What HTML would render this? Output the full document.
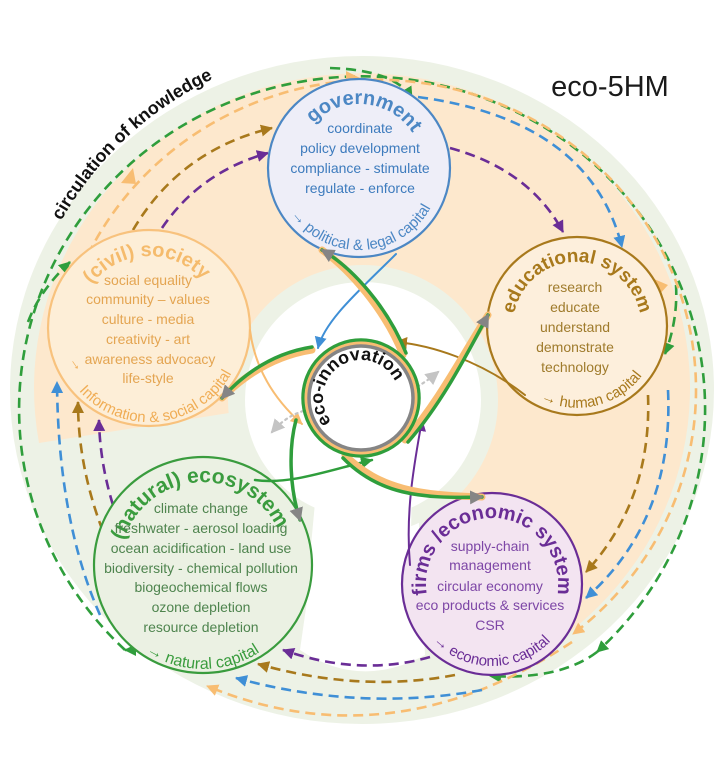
<!DOCTYPE html>
<html><head><meta charset="utf-8"><style>
html,body{margin:0;padding:0;background:#fff;}
svg{display:block;font-family:"Liberation Sans",sans-serif;}
</style></head><body>
<svg width="720" height="759" viewBox="0 0 720 759" xmlns="http://www.w3.org/2000/svg">
<defs>
<marker id="mG" markerUnits="userSpaceOnUse" markerWidth="14" markerHeight="14" refX="11" refY="6" orient="auto"><path d="M0,0 L12,6 L0,12 z" fill="#2f9e3c"/></marker>
<marker id="mO" markerUnits="userSpaceOnUse" markerWidth="14" markerHeight="14" refX="11" refY="6" orient="auto"><path d="M0,0 L12,6 L0,12 z" fill="#f8bd72"/></marker>
<marker id="mB" markerUnits="userSpaceOnUse" markerWidth="14" markerHeight="14" refX="11" refY="6" orient="auto"><path d="M0,0 L12,6 L0,12 z" fill="#3f8fd6"/></marker>
<marker id="mBr" markerUnits="userSpaceOnUse" markerWidth="14" markerHeight="14" refX="11" refY="6" orient="auto"><path d="M0,0 L12,6 L0,12 z" fill="#a8791c"/></marker>
<marker id="mP" markerUnits="userSpaceOnUse" markerWidth="14" markerHeight="14" refX="11" refY="6" orient="auto"><path d="M0,0 L12,6 L0,12 z" fill="#6a2d96"/></marker>
<marker id="mGr" markerUnits="userSpaceOnUse" markerWidth="16" markerHeight="16" refX="12" refY="7" orient="auto"><path d="M0,0 L14,7 L0,14 z" fill="#858585"/></marker>
<marker id="mLg" markerUnits="userSpaceOnUse" markerWidth="16" markerHeight="16" refX="12" refY="7" orient="auto-start-reverse"><path d="M0,0 L14,7 L0,14 z" fill="#c4c4c4"/></marker>

<path id="tCirc" d="M 22.2 330.1 A 345 345 0 0 1 421.9 50.2"/>
<path id="tGov" d="M 295 168 A 64 64 0 0 1 423 168"/>
<path id="tGovC" d="M 278.2 182.2 A 82 82 0 0 0 439.8 153.8"/>
<path id="tEdu" d="M 516.9 347.9 A 64 64 0 1 1 637.1 347.9"/>
<path id="tEduC" d="M 500 354 A 82 82 0 0 0 659 326"/>
<path id="tCiv" d="M 81.3 352.6 A 72 72 0 1 1 216.7 352.6"/>
<path id="tCivC" d="M 56.4 344.6 A 94 94 0 0 0 241.6 311.4"/>
<path id="tEco" d="M 122.8 586.5 A 83 83 0 1 1 283.2 586.5"/>
<path id="tEcoC" d="M 113 617 A 104 104 0 0 0 293 617"/>
<path id="tFir" d="M 434.8 617 A 66 66 0 1 1 549.2 617"/>
<path id="tFirC" d="M 412.8 605.2 A 82 82 0 0 0 571.2 605.2"/>
<path id="tInn" d="M 336.6 427.1 A 38 38 0 1 1 398.4 391.4"/>
</defs>

<ellipse cx="362" cy="390" rx="352" ry="334" fill="#edf2e6"/>
<path d="M 362 392 L 39 443 A 328 315 0 1 1 500 674 Z" fill="#fde8cd"/>
<path d="M 330 440 L 300 650 Q 360 690 425 655 L 415 440 Z" fill="#ffffff"/>
<circle cx="363" cy="400" r="135" fill="#edf2e6"/>
<circle cx="363" cy="400" r="118" fill="#ffffff"/>
<path d="M 318 470 L 306 600 Q 360 640 410 600 L 412 470 Z" fill="#ffffff"/>

<g fill="none" stroke-width="2.6" stroke-dasharray="10 6">
<path d="M 125 650 A 343 333 0 1 1 597 652" stroke="#2f9e3c" marker-end="url(#mG)"/>
<path d="M 28 322 Q 40 290 70 262" stroke="#2f9e3c" marker-end="url(#mG)"/>
<path d="M 330 68 Q 395 70 412 98" stroke="#2f9e3c" marker-end="url(#mG)"/>
<path d="M 676 285 Q 678 320 665 354" stroke="#2f9e3c" marker-end="url(#mG)"/>
<path d="M 597 652 Q 560 680 490 676" stroke="#2f9e3c" marker-end="url(#mG)"/>
<path d="M 142 645 Q 130 650 125 650" stroke="#2f9e3c" marker-end="url(#mG)"/>

<path d="M 62 330 A 320 310 0 1 1 573 634" stroke="#f8bd72" marker-end="url(#mO)"/>
<path d="M 572 642 Q 390 762 207 686" stroke="#f8bd72" marker-end="url(#mO)"/>

<path d="M 482 690 Q 360 712 236 678" stroke="#3f8fd6" marker-end="url(#mB)"/>
<path d="M 455 675 Q 360 693 258 664" stroke="#a8791c" marker-end="url(#mBr)"/>
<path d="M 430 657 Q 360 677 283 650" stroke="#6a2d96" marker-end="url(#mP)"/>

<path d="M 100 615 Q 58 520 57 382" stroke="#3f8fd6" marker-end="url(#mB)"/>
<path d="M 115 560 Q 78 480 78 402" stroke="#a8791c" marker-end="url(#mBr)"/>
<path d="M 118 520 Q 100 470 99 420" stroke="#6a2d96" marker-end="url(#mP)"/>

<path d="M 648 395 Q 652 500 586 572" stroke="#a8791c" marker-end="url(#mBr)"/>
<path d="M 668 390 Q 674 520 586 598" stroke="#3f8fd6" marker-end="url(#mB)"/>

<path d="M 133 230 Q 180 150 272 128" stroke="#a8791c" marker-end="url(#mBr)"/>
<path d="M 162 228 Q 200 172 268 153" stroke="#6a2d96" marker-end="url(#mP)"/>
<path d="M 450 148 Q 530 170 563 232" stroke="#6a2d96" marker-end="url(#mP)"/>
<path d="M 418 97 Q 590 120 622 247" stroke="#3f8fd6" marker-end="url(#mB)"/>
</g>
<path d="M 121 183 L 133 168 L 136 184 z" fill="#f8bd72"/>
<path d="M 346 71 L 360 78 L 346 85 z" fill="#f8bd72"/>
<path d="M 654 279 L 668 285 L 658 296 z" fill="#f8bd72"/>

<ellipse cx="359" cy="168" rx="91" ry="89" fill="#eeeef8" stroke="#4c87c4" stroke-width="2.2"/>
<ellipse cx="577" cy="326" rx="90" ry="89" fill="#fdefdc" stroke="#a8791c" stroke-width="2.2"/>
<ellipse cx="149" cy="328" rx="101" ry="98" fill="#fdeed7" stroke="#f8c27d" stroke-width="2.2"/>
<ellipse cx="203" cy="565" rx="109" ry="108" fill="#ebf1e3" stroke="#3a9c3e" stroke-width="2.2"/>
<ellipse cx="492" cy="584" rx="90" ry="91" fill="#f3e4f1" stroke="#6a2d96" stroke-width="2.2"/>

<g fill="none" stroke-linecap="round">
<path d="M 396 254 C 360 290 325 320 318 348" stroke="#3f8fd6" stroke-width="2" marker-end="url(#mB)"/>
<path d="M 525 395 C 480 360 430 345 396 342" stroke="#a8791c" stroke-width="2" marker-end="url(#mBr)"/>
<path d="M 250 330 C 255 370 275 400 302 424" stroke="#f8bd72" stroke-width="2" marker-end="url(#mO)"/>
<path d="M 410 565 C 405 510 415 460 422 420" stroke="#6a2d96" stroke-width="2" marker-end="url(#mP)"/>
<path d="M 255 480 C 290 485 330 470 372 460" stroke="#2f9e3c" stroke-width="2.5" marker-end="url(#mG)"/>

<path d="M 403 355 C 385 310 350 270 322 250" stroke="#f8bd72" stroke-width="7"/>
<path d="M 406 353 C 388 308 353 268 322 250" stroke="#2f9e3c" stroke-width="3.5" marker-end="url(#mGr)"/>
<path d="M 312 350 C 280 355 250 370 222 398" stroke="#f8bd72" stroke-width="7"/>
<path d="M 312 347 C 280 352 250 367 222 398" stroke="#2f9e3c" stroke-width="3.5" marker-end="url(#mGr)"/>
<path d="M 405 440 C 440 400 465 350 488 315" stroke="#f8bd72" stroke-width="7"/>
<path d="M 408 442 C 443 402 468 352 488 315" stroke="#2f9e3c" stroke-width="3.5" marker-end="url(#mGr)"/>
<path d="M 345 455 C 380 490 420 495 482 497" stroke="#f8bd72" stroke-width="7"/>
<path d="M 343 458 C 378 494 420 499 482 497" stroke="#2f9e3c" stroke-width="3.5" marker-end="url(#mGr)"/>
<path d="M 296 420 C 288 450 290 490 300 520" stroke="#2f9e3c" stroke-width="3.5" marker-end="url(#mGr)"/>

<path d="M 272 432 C 300 400 330 410 360 405 C 390 400 410 395 438 372" stroke="#c4c4c4" stroke-width="2.2" stroke-dasharray="2 4" marker-start="url(#mLg)" marker-end="url(#mLg)"/>
</g>

<circle cx="361" cy="398" r="58" fill="none" stroke="#2f9e3c" stroke-width="3.5"/>
<circle cx="361" cy="398" r="55" fill="none" stroke="#f8bd72" stroke-width="3"/>
<circle cx="361" cy="398" r="52" fill="#ffffff" stroke="#858585" stroke-width="3.5"/>
<text font-size="18" font-weight="bold" fill="#111"><textPath href="#tInn" startOffset="49%" text-anchor="middle">eco-innovation</textPath></text>

<text x="610" y="96" font-size="29" fill="#1a1a1a" text-anchor="middle">eco-5HM</text>
<text font-size="18" font-weight="bold" fill="#111"><textPath href="#tCirc" startOffset="41%" text-anchor="middle">circulation of knowledge</textPath></text>

<text font-size="20" font-weight="bold" fill="#4c87c4"><textPath href="#tGov" startOffset="53%" text-anchor="middle">government</textPath></text>
<text font-size="15" fill="#4c87c4"><textPath href="#tGovC" startOffset="46%" text-anchor="middle">→ political &amp; legal capital</textPath></text>
<g font-size="14" fill="#3d7bbd" text-anchor="middle">
<text x="360" y="133">coordinate</text>
<text x="360" y="153">policy development</text>
<text x="360" y="173">compliance  -  stimulate</text>
<text x="360" y="193">regulate  -  enforce</text>
</g>

<text font-size="19" font-weight="bold" fill="#a8791c"><textPath href="#tEdu" startOffset="50%" text-anchor="middle">educational system</textPath></text>
<text font-size="15" fill="#a8791c"><textPath href="#tEduC" startOffset="52%" text-anchor="middle">→ human capital</textPath></text>
<g font-size="14" fill="#9f7b2c" text-anchor="middle">
<text x="575" y="292">research</text>
<text x="575" y="312">educate</text>
<text x="575" y="332">understand</text>
<text x="575" y="352">demonstrate</text>
<text x="575" y="372">technology</text>
</g>

<text font-size="20" font-weight="bold" fill="#f5bb6c"><textPath href="#tCiv" startOffset="49%" text-anchor="middle">(civil) society</textPath></text>
<text font-size="15" fill="#f0ad55"><textPath href="#tCivC" startOffset="48%" text-anchor="middle">Information &amp; social capital</textPath></text>
<text x="72" y="362" font-size="15" fill="#f0ad55" transform="rotate(55 72 358)">→</text>
<g font-size="14" fill="#e4a552" text-anchor="middle">
<text x="148" y="285">social equality</text>
<text x="148" y="304">community – values</text>
<text x="148" y="324">culture  -  media</text>
<text x="148" y="344">creativity  -  art</text>
<text x="150" y="364">awareness  advocacy</text>
<text x="148" y="383">life-style</text>
</g>

<text font-size="21" font-weight="bold" fill="#3a9c3e"><textPath href="#tEco" startOffset="48%" text-anchor="middle">(natural) ecosystem</textPath></text>
<text font-size="16" fill="#3a9c3e"><textPath href="#tEcoC" startOffset="50%" text-anchor="middle">→ natural capital</textPath></text>
<g font-size="14" fill="#4e844e" text-anchor="middle">
<text x="201" y="513">climate change</text>
<text x="201" y="533">freshwater -  aerosol loading</text>
<text x="201" y="553">ocean acidification -  land use</text>
<text x="201" y="573">biodiversity - chemical pollution</text>
<text x="201" y="592">biogeochemical flows</text>
<text x="201" y="612">ozone depletion</text>
<text x="201" y="632">resource depletion</text>
</g>

<text font-size="20" font-weight="bold" fill="#6a2d96"><textPath href="#tFir" startOffset="50%" text-anchor="middle">firms /economic system</textPath></text>
<text font-size="15" fill="#6a2d96"><textPath href="#tFirC" startOffset="50%" text-anchor="middle">→ economic capital</textPath></text>
<g font-size="14" fill="#7d46a6" text-anchor="middle">
<text x="490" y="551">supply-chain</text>
<text x="490" y="570">management</text>
<text x="490" y="591">circular economy</text>
<text x="490" y="610">eco products &amp; services</text>
<text x="490" y="630">CSR</text>
</g>
</svg>
</body></html>
